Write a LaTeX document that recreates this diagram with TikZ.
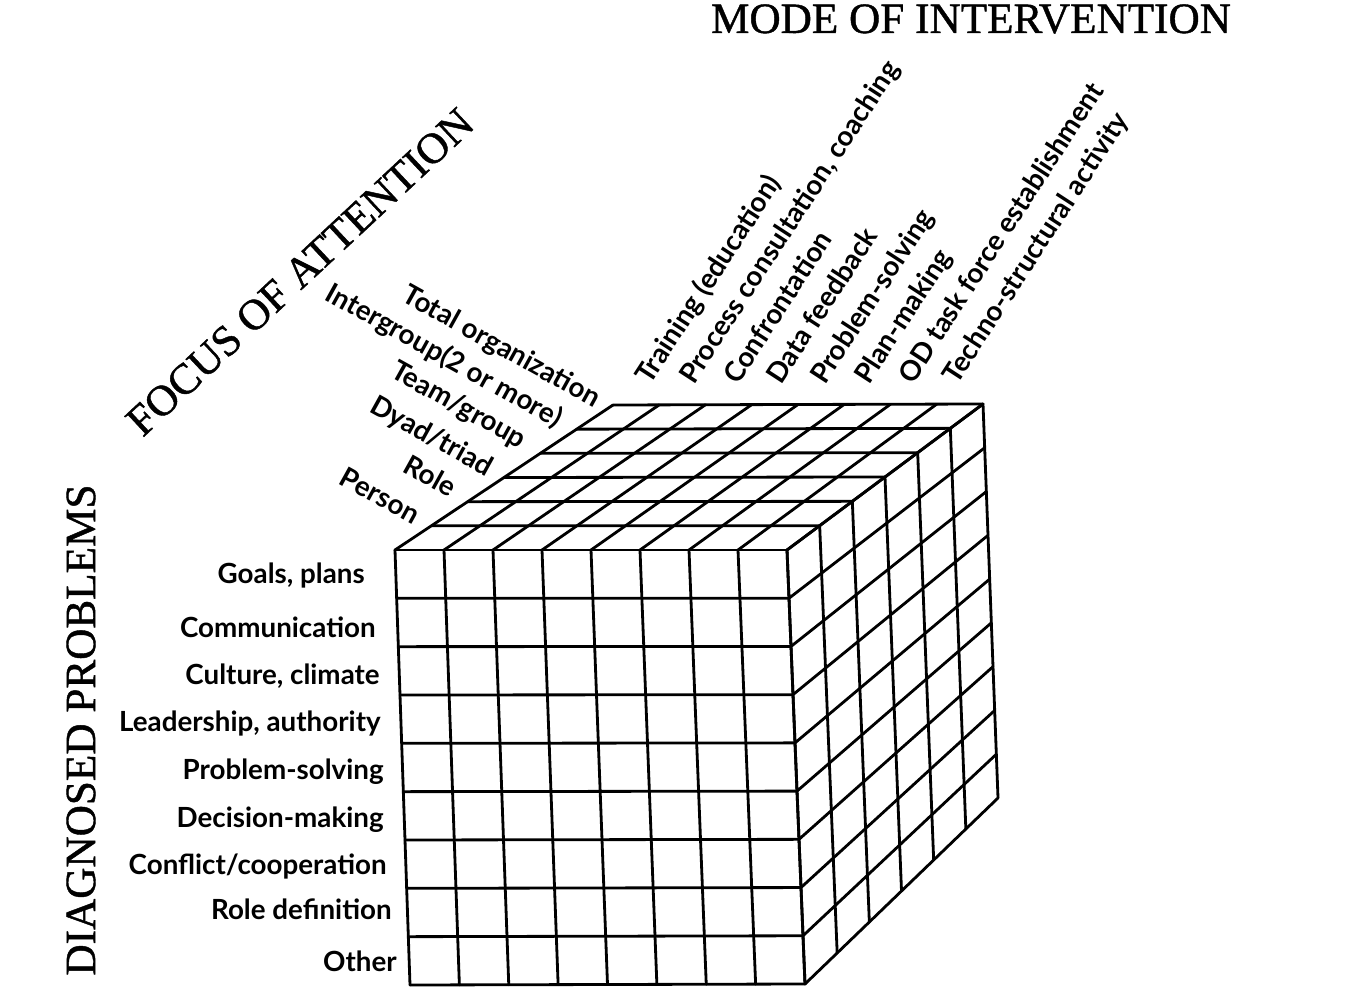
\documentclass[tikz,border=0pt]{standalone}
\usepackage{fontspec}
\usetikzlibrary{calc}
\newfontfamily\headfont[FakeBold=1]{Liberation Serif}
\newfontfamily\lblfont{Lato}

\begin{document}
\begin{tikzpicture}[x=0.02cm, y=-0.02cm,
  head/.style={font=\headfont\fontsize{24.6}{28}\selectfont, inner sep=0pt},
  prob/.style={font=\lblfont\bfseries\fontsize{15.8}{18}\selectfont, inner sep=0pt, anchor=base east},
  focus/.style={prob, rotate=-29},
  mode/.style={font=\lblfont\bfseries\fontsize{15.8}{18}\selectfont, inner sep=0pt, anchor=base west, rotate=57},
  edge/.style={line width=1.6pt, line cap=round, line join=round}]
  \useasboundingbox (0,0) rectangle (1365,989);

  \coordinate (ftl) at (395,550);
  \coordinate (ftr) at (787,550);
  \coordinate (fbl) at (410,985);
  \coordinate (fbr) at (805,984);
  \coordinate (btl) at (613,405);
  \coordinate (btr) at (983,404);
  \coordinate (bbr) at (998,798);

  % front face
  \foreach \i in {0,...,8}
    \draw[edge] ($(ftl)!\i/8!(ftr)$) -- ($(fbl)!\i/8!(fbr)$);
  \foreach \j in {0,...,9}
    \draw[edge] ($(ftl)!\j/9!(fbl)$) -- ($(ftr)!\j/9!(fbr)$);
  % top face
  \foreach \i in {0,...,8}
    \draw[edge] ($(ftl)!\i/8!(ftr)$) -- ($(btl)!\i/8!(btr)$);
  \foreach \k in {0,...,6}
    \draw[edge] ($(ftl)!\k/6!(btl)$) -- ($(ftr)!\k/6!(btr)$);
  % right face
  \foreach \k in {0,...,6}
    \draw[edge] ($(ftr)!\k/6!(btr)$) -- ($(fbr)!\k/6!(bbr)$);
  \foreach \j in {0,...,9}
    \draw[edge] ($(ftr)!\j/9!(fbr)$) -- ($(btr)!\j/9!(bbr)$);

  \node[head] (mode) at (971,19) {MODE OF INTERVENTION};
  \node[head, rotate=43] (focus) at (300,272) {FOCUS OF ATTENTION};
  \node[head, rotate=90] (diag) at (81,730) {DIAGNOSED PROBLEMS};

  \node[prob] (goals) at (365,583) {Goals, plans};
  \node[prob] (comm) at (376,637) {Communication};
  \node[prob] (cult) at (380,684) {Culture, climate};
  \node[prob] (lead) at (381,731) {Leadership, authority};
  \node[prob] (solve) at (384,779) {Problem-solving};
  \node[prob] (decide) at (384,827) {Decision-making};
  \node[prob] (conf) at (387,874) {Conflict/cooperation};
  \node[prob] (roledef) at (392,919) {Role definition};
  \node[prob] (other) at (397,971) {Other};

  \node[focus] (total) at (594,408) {Total organization};
  \node[focus] (inter) at (556,428) {Intergroup(2 or more)};
  \node[focus] (team) at (520,449) {Team/group};
  \node[focus] (dyad) at (487,477) {Dyad/triad};
  \node[focus] (role) at (450,498) {Role};
  \node[focus] (person) at (413,525) {Person};

  \node[mode] (train) at (650,386) {Training (education)};
  \node[mode] (process) at (694,386) {Process consultation, coaching};
  \node[mode] (confront) at (738,386) {Confrontation};
  \node[mode] (feedback) at (781,386) {Data feedback};
  \node[mode] (probsolve) at (825,386) {Problem-solving};
  \node[mode] (plan) at (869,386) {Plan-making};
  \node[mode] (task) at (913,386) {OD task force establishment};
  \node[mode] (techno) at (957,386) {Techno-structural activity};
\end{tikzpicture}
\end{document}
